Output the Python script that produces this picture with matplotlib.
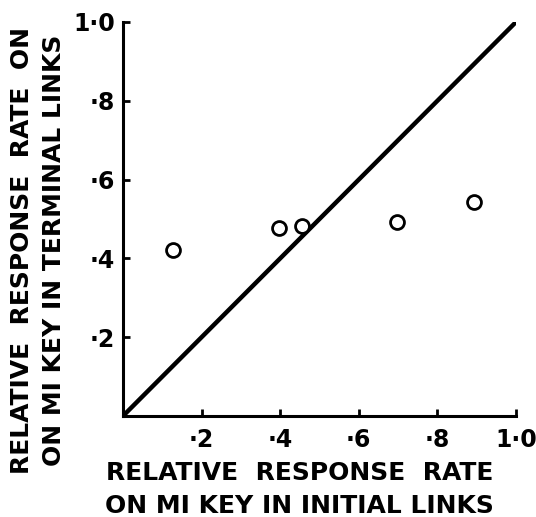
import numpy as np
import matplotlib
matplotlib.use('Agg')
import matplotlib.pyplot as plt

# relative response rate on MI key: initial links (x) vs terminal links (y)
initial_links = [0.126, 0.397, 0.456, 0.696, 0.894]
terminal_links = [0.420, 0.478, 0.483, 0.492, 0.544]
tick_values = [0.2, 0.4, 0.6, 0.8, 1.0]
tick_labels = ['\u00b72', '\u00b74', '\u00b76', '\u00b78', '1\u00b70']
diag = [0.0, 1.0]

plt.rcParams['font.family'] = ['DejaVu Sans']

fig = plt.figure(figsize=(5.36, 5.17), dpi=100)
ax = fig.add_axes([0.2295, 0.1954, 0.7332, 0.7621])

ax.plot(diag, diag, color='black', linewidth=3.2, solid_capstyle='round')
ax.plot(initial_links, terminal_links, linestyle='none', marker='o', markersize=10,
        markerfacecolor='white', markeredgecolor='black', markeredgewidth=2)

ax.set_xlim(0, 1.0)
ax.set_ylim(0, 1.0)
for s in ['top', 'right']:
    ax.spines[s].set_visible(False)
for s in ['left', 'bottom']:
    ax.spines[s].set_linewidth(2.2)

ax.set_xticks(tick_values)
ax.set_xticklabels(tick_labels, fontweight='bold')
ax.set_yticks(tick_values)
ax.set_yticklabels(tick_labels, fontweight='bold')
ax.tick_params(direction='in', length=5, width=2, labelsize=17)
ax.tick_params(axis='x', pad=9)
ax.tick_params(axis='y', pad=6)

ax.set_xlabel('RELATIVE  RESPONSE  RATE\nON MI KEY IN INITIAL LINKS', fontsize=18,
              fontweight='bold', linespacing=1.45)
ax.set_ylabel('RELATIVE  RESPONSE  RATE  ON\nON MI KEY IN TERMINAL LINKS', fontsize=18,
              fontweight='bold', linespacing=1.45)
ax.xaxis.set_label_coords(0.45, -0.186)
ax.yaxis.set_label_coords(-0.216, 0.42)
ax.xaxis.label.set_va('center')
ax.yaxis.label.set_va('center')

fig.savefig('out.png', dpi=100)
